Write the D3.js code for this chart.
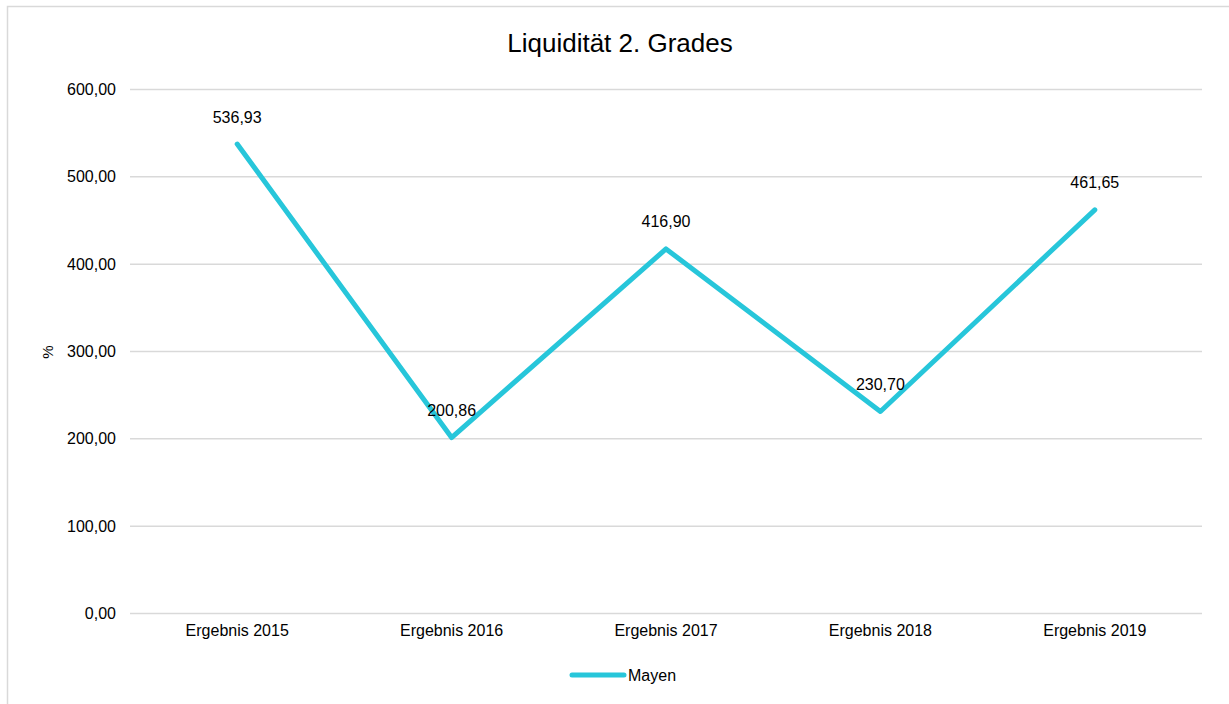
<!DOCTYPE html>
<html>
<head>
<meta charset="utf-8">
<script src="https://cdn.jsdelivr.net/npm/d3@7"></script>
<style>
  html, body { margin: 0; padding: 0; background: #fff; }
  svg { display: block; font-family: "Liberation Sans", Arial, sans-serif; }
</style>
</head>
<body>
<svg id="chart" width="1229" height="704"></svg>
<script>
const categories = ["Ergebnis 2015", "Ergebnis 2016", "Ergebnis 2017", "Ergebnis 2018", "Ergebnis 2019"];
const values = [536.93, 200.86, 416.90, 230.70, 461.65];
const yTicks = [0, 100, 200, 300, 400, 500, 600];
const seriesName = "Mayen";
const chartTitle = "Liquidität 2. Grades";
const yAxisTitle = "%";

(function () {
const svg = d3.select("#chart");
const W = 1229, H = 704;
const mLeft = 130, mRight = 1202, mTop = 89, mBottom = 613;
const color = "#27c6da";
const fmt = v => d3.format(".2f")(v).replace(".", ",");

// outer border
svg.append("rect").attr("x", 7.5).attr("y", 6.5).attr("width", W + 10).attr("height", H + 10)
  .attr("fill", "none").attr("stroke", "#d9d9d9").attr("stroke-width", 1.5);

const x = d3.scaleBand().domain(categories).range([mLeft, mRight]);
const y = d3.scaleLinear().domain([0, 600]).range([mBottom, mTop]);

// gridlines
const yAxis = d3.axisLeft(y).tickValues(yTicks).tickSize(-(mRight - mLeft)).tickPadding(14).tickFormat(fmt);
const gy = svg.append("g").attr("transform", `translate(${mLeft},0)`).call(yAxis);
gy.select(".domain").remove();
gy.selectAll(".tick line").attr("stroke", "#d9d9d9").attr("stroke-width", 1.5);
gy.selectAll(".tick text").attr("font-size", "16px").attr("fill", "#000").attr("dy", "0.35em")
  .attr("font-family", "Liberation Sans, Arial, sans-serif");

// x axis labels
const xAxis = d3.axisBottom(x).tickSize(0).tickPadding(12);
const gx = svg.append("g").attr("transform", `translate(0,${mBottom})`).call(xAxis);
gx.select(".domain").remove();
gx.selectAll(".tick text").attr("font-size", "16px").attr("fill", "#000")
  .attr("font-family", "Liberation Sans, Arial, sans-serif");

// line
const cx = c => x(c) + x.bandwidth() / 2;
const data = categories.map((c, i) => ({ c, v: values[i] }));
svg.append("path").datum(data)
  .attr("fill", "none").attr("stroke", color).attr("stroke-width", 5)
  .attr("stroke-linejoin", "round").attr("stroke-linecap", "round")
  .attr("d", d3.line().x(d => cx(d.c)).y(d => y(d.v)));

// data labels
svg.append("g").selectAll("text").data(data).join("text")
  .attr("x", d => cx(d.c)).attr("y", d => y(d.v) - 21.5)
  .attr("text-anchor", "middle").attr("font-size", "16px").attr("fill", "#000")
  .text(d => fmt(d.v));

// title
svg.append("text").attr("x", 620).attr("y", 52).attr("text-anchor", "middle")
  .attr("font-size", "26px").attr("fill", "#000").text(chartTitle);

// y axis title
svg.append("text").attr("transform", "translate(53,352) rotate(-90)")
  .attr("text-anchor", "middle").attr("font-size", "15px").attr("fill", "#000").text(yAxisTitle);

// legend
const lg = svg.append("g");
lg.append("line").attr("x1", 572).attr("x2", 624).attr("y1", 675).attr("y2", 675)
  .attr("stroke", color).attr("stroke-width", 5).attr("stroke-linecap", "round");
lg.append("text").attr("x", 628).attr("y", 680.5).attr("font-size", "16px").attr("fill", "#000").text(seriesName);
})();
</script>
</body>
</html>
